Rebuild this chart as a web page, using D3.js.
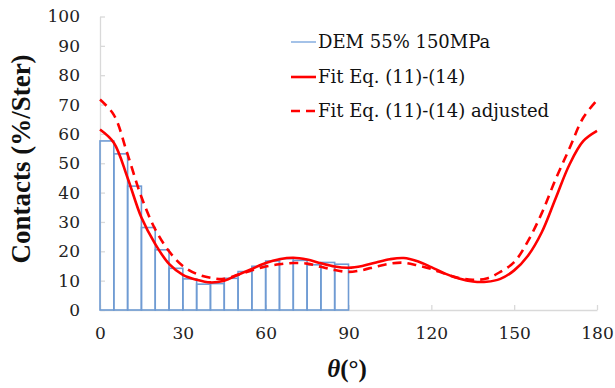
<!DOCTYPE html>
<html><head><meta charset="utf-8">
<script src="https://cdn.jsdelivr.net/npm/d3@7"></script>
<style>body{margin:0;background:#fff}svg{display:block}</style>
</head><body><svg id="c" width="615" height="388"></svg>
<script>
const binStart = [0,5,10,15,20,25,30,35,40,45,50,55,60,65,70,75,80,85];
const binWidth = 5;
const demValues = [57.6,53.2,42.2,28.1,20.5,14.2,10.6,8.8,9.0,10.8,13.1,14.9,16.7,17.5,16.9,15.4,16.2,15.6];
const angles = [0,5,10,15,20,25,30,35,40,45,50,55,60,65,70,75,80,85,90,95,100,105,110,115,120,125,130,135,140,145,150,155,160,165,170,175,180];
const fitValues = [61.5,57.0,45.0,31.5,22.5,15.7,12.0,10.3,9.4,10.0,12.0,14.0,16.0,17.3,17.8,17.2,15.9,14.8,14.4,15.0,16.2,17.3,17.7,16.6,14.6,12.4,10.7,9.7,9.6,10.6,13.5,18.5,26.5,38.0,49.5,57.5,61.0];
const adjValues = [71.7,66.5,53.0,38.5,27.5,20.0,15.0,12.3,11.0,10.6,12.0,13.5,14.8,15.6,16.0,15.8,14.7,13.6,13.0,13.6,14.8,15.8,16.1,15.2,14.0,12.3,10.9,10.3,10.7,13.0,16.3,23.5,33.0,44.5,55.0,65.5,71.5];
const xTicks = [0,30,60,90,120,150,180];
const yTicks = [0,10,20,30,40,50,60,70,80,90,100];
const legendLabels = ["DEM 55% 150MPa","Fit Eq. (11)-(14)","Fit Eq. (11)-(14) adjusted"];

const svg = d3.select("#c");
const x = d3.scaleLinear().domain([0,180]).range([100,597]);
const y = d3.scaleLinear().domain([0,100]).range([310,16.5]);
const axisColor = "#d9d9d9";
const font = "'DejaVu Serif', serif";
const titleFont = "'Liberation Serif', serif";

// axes
const gx = svg.append("g").attr("transform","translate(0,310)")
  .call(d3.axisBottom(x).tickValues(xTicks).tickSizeInner(-5).tickSizeOuter(0).tickPadding(17));
const gy = svg.append("g").attr("transform","translate(100,0)")
  .call(d3.axisLeft(y).tickValues(yTicks).tickSizeInner(-5).tickSizeOuter(0).tickPadding(20));
[gx,gy].forEach(g=>{
  g.selectAll("path,line").attr("stroke",axisColor).attr("stroke-width",1.3);
  g.selectAll("text").attr("font-family",font).attr("font-size",17).attr("fill","#222");
});
gx.selectAll("text").attr("dy","0.71em");

// bars
const bc = "#6f9bd3";
svg.append("g").selectAll("rect").data(demValues).join("rect")
  .attr("x",(d,i)=>x(binStart[i]))
  .attr("width",(d,i)=>x(binStart[i]+binWidth)-x(binStart[i]))
  .attr("y",d=>y(d))
  .attr("height",d=>y(0)-y(d))
  .attr("fill","none").attr("stroke",bc).attr("stroke-width",1.6);

// curves
const line = d3.line().x((d,i)=>x(angles[i])).y(d=>y(d)).curve(d3.curveCatmullRom.alpha(0.5));
svg.append("path").attr("d",line(fitValues)).attr("fill","none").attr("stroke","#ff0000").attr("stroke-width",2.6);
svg.append("path").attr("d",line(adjValues)).attr("fill","none").attr("stroke","#ff0000").attr("stroke-width",2.6).attr("stroke-dasharray","9,6");

// legend
const lg = svg.append("g");
const ly = [42,77,111];
const styles = [{c:"#8db3e2",w:1.6,d:null},{c:"#ff0000",w:2.6,d:null},{c:"#ff0000",w:2.6,d:"9,6"}];
legendLabels.forEach((t,i)=>{
  lg.append("line").attr("x1",291).attr("x2",316).attr("y1",ly[i]).attr("y2",ly[i])
    .attr("stroke",styles[i].c).attr("stroke-width",styles[i].w).attr("stroke-dasharray",styles[i].d);
  lg.append("text").attr("x",318).attr("y",ly[i]).attr("dy","0.36em")
    .attr("font-family",font).attr("font-size",18).attr("fill","#111").text(t);
});

// axis titles
svg.append("text").attr("transform","translate(30,159) rotate(-90)").attr("text-anchor","middle")
  .attr("font-family",titleFont).attr("font-weight","bold").attr("font-size",27).attr("fill","#111")
  .text("Contacts (%/Ster)");
const xt = svg.append("text").attr("x",347).attr("y",377).attr("text-anchor","middle")
  .attr("font-family",titleFont).attr("font-weight","bold").attr("font-size",25).attr("fill","#111");
xt.append("tspan").attr("font-style","italic").text("θ");
xt.append("tspan").text("(°)");
</script></body></html>
